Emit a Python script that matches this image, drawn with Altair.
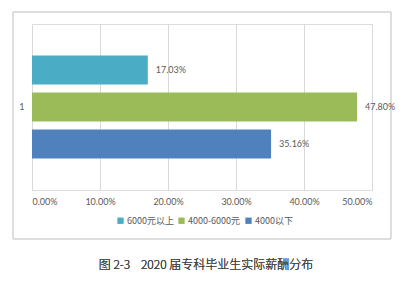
import altair as alt
import pandas as pd

series = ["6000元以上", "4000-6000元", "4000以下"]
values = [0.1703, 0.4780, 0.3516]
colors = ["#4BACC6", "#9BBB59", "#4F81BD"]
caption = "图 2-3\u00a0\u00a0\u00a0 2020 届专科毕业生实际薪酬分布"

df = pd.DataFrame({"series": series, "value": values,
                   "label": [f"{v*100:.2f}%" for v in values]})

W, H = 340, 166

y_enc = alt.Y("series:N", sort=series, title=None,
              scale=alt.Scale(paddingInner=0.22, paddingOuter=0.85),
              axis=alt.Axis(labelExpr="datum.value == '4000-6000元' ? '1' : ''",
                            ticks=False, domain=False, labelPadding=8,
                            labelFont="Lato", labelFontSize=9, labelColor="#595959"))
x_enc = alt.X("value:Q", title=None,
              scale=alt.Scale(domain=[0, 0.5], nice=False),
              axis=alt.Axis(format=".2%", values=[0, 0.1, 0.2, 0.3, 0.4, 0.5],
                            grid=True, gridColor="#d9d9d9", domain=False, ticks=False,
                            labelPadding=7, labelFont="Lato", labelFontSize=9,
                            labelColor="#595959"))

base = alt.Chart(df)

frame = base.mark_rect(fill=None, stroke="#d9d9d9", strokeWidth=1, clip=False).encode(
    x=alt.value(-19), x2=alt.value(359), y=alt.value(-12), y2=alt.value(215))

bars = base.mark_bar().encode(
    x=x_enc, y=y_enc,
    color=alt.Color("series:N", sort=series,
                    scale=alt.Scale(domain=series, range=colors),
                    legend=alt.Legend(title=None, orient="none", direction="horizontal",
                                      legendX=84, legendY=192, symbolType="square",
                                      symbolSize=40, symbolStrokeWidth=0,
                                      labelFont="Noto Sans CJK SC", labelFontSize=9,
                                      labelColor="#595959", columnPadding=3,
                                      symbolOffset=0, labelOffset=2)))

labels = base.mark_text(align="left", dx=8, font="Lato", fontSize=9, color="#595959").encode(
    x="value:Q", y=alt.Y("series:N", sort=series), text="label:N")

cap = base.mark_text(font="Noto Sans CJK SC", fontSize=12, fontWeight=300,
                     color="#444444").encode(
    x=alt.value(174), y=alt.value(241), text=alt.value(caption))

chart = alt.layer(frame, bars, labels, cap).properties(
    width=W, height=H,
    padding={"left": 32, "top": 24, "right": 46, "bottom": 92},
    autosize=alt.AutoSizeParams(type="none")
).configure_view(stroke=None).configure(background="white")

chart.save("out.html", embed_options={"renderer": "svg", "actions": False})
